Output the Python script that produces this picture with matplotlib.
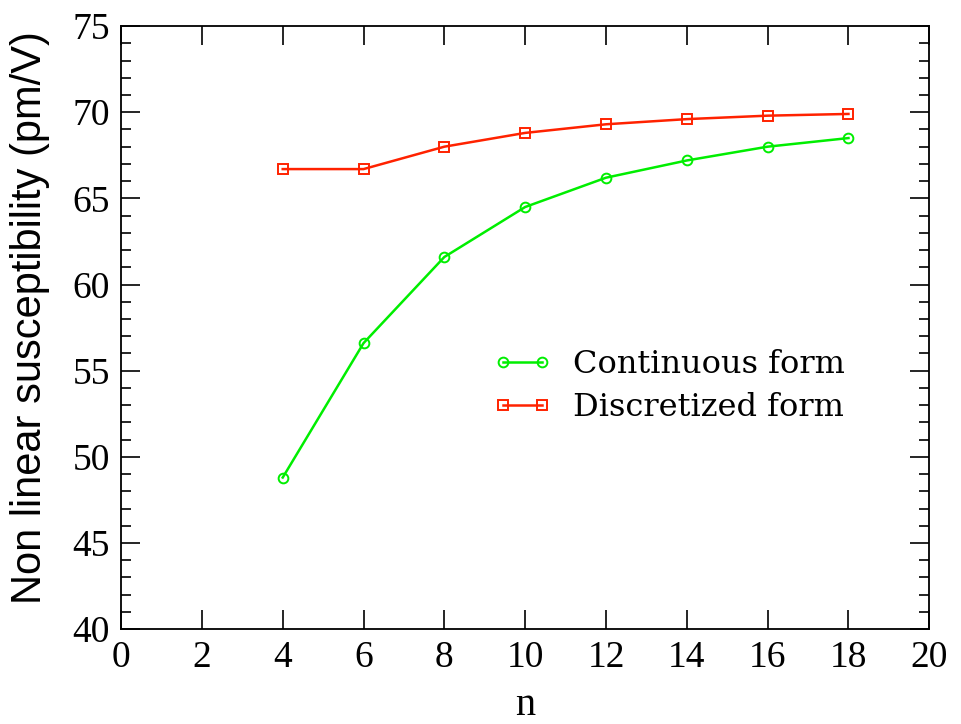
import matplotlib
matplotlib.use('Agg')
import matplotlib.pyplot as plt
from matplotlib.ticker import MultipleLocator

# values
n_values = [4, 6, 8, 10, 12, 14, 16, 18]
continuous = [48.8, 56.6, 61.6, 64.5, 66.2, 67.2, 68.0, 68.5]
discretized = [66.7, 66.7, 68.0, 68.8, 69.3, 69.6, 69.8, 69.9]

x_ticks = [0, 2, 4, 6, 8, 10, 12, 14, 16, 18, 20]
y_ticks = [40, 45, 50, 55, 60, 65, 70, 75]

serif = 'Liberation Serif'
sans = 'Liberation Sans'

fig = plt.figure(figsize=(9.61, 7.24), dpi=100)
ax = fig.add_axes([0.126, 0.131, 0.841, 0.833])

ax.plot(n_values, continuous, color='#00ee00', lw=1.8, marker='o', ms=7,
        mfc='none', mec='#00ee00', mew=1.4, label='Continuous form')
ax.plot(n_values, discretized, color='#ff2200', lw=1.8, marker='s', ms=7,
        mfc='none', mec='#ff2200', mew=1.4, label='Discretized form')

ax.set_xlim(0, 20)
ax.set_ylim(40, 75)
ax.set_xticks(x_ticks)
ax.set_yticks(y_ticks)
ax.yaxis.set_minor_locator(MultipleLocator(1))

ax.tick_params(which='both', direction='in', top=True, right=True, width=1.2)
ax.tick_params(which='major', length=14, pad=8)
ax.tick_params(which='minor', length=7)
for lab in ax.get_xticklabels() + ax.get_yticklabels():
    lab.set_fontfamily(serif)
    lab.set_fontsize(27)
for sp in ax.spines.values():
    sp.set_linewidth(1.3)

ax.set_xlabel('n', fontfamily=serif, fontsize=29, labelpad=9)
ax.set_ylabel('Non linear susceptibility (pm/V)', fontfamily=sans, fontsize=30)
ax.yaxis.set_label_coords(-0.088, 0.517)

ax.legend(loc='center left', bbox_to_anchor=(0.461, 0.403), frameon=False,
          numpoints=2, handlelength=1.8, handletextpad=0.68, labelspacing=0.4,
          borderpad=0, borderaxespad=0, prop={'family': 'DejaVu Serif', 'size': 23})

fig.savefig('out.png', dpi=100)
